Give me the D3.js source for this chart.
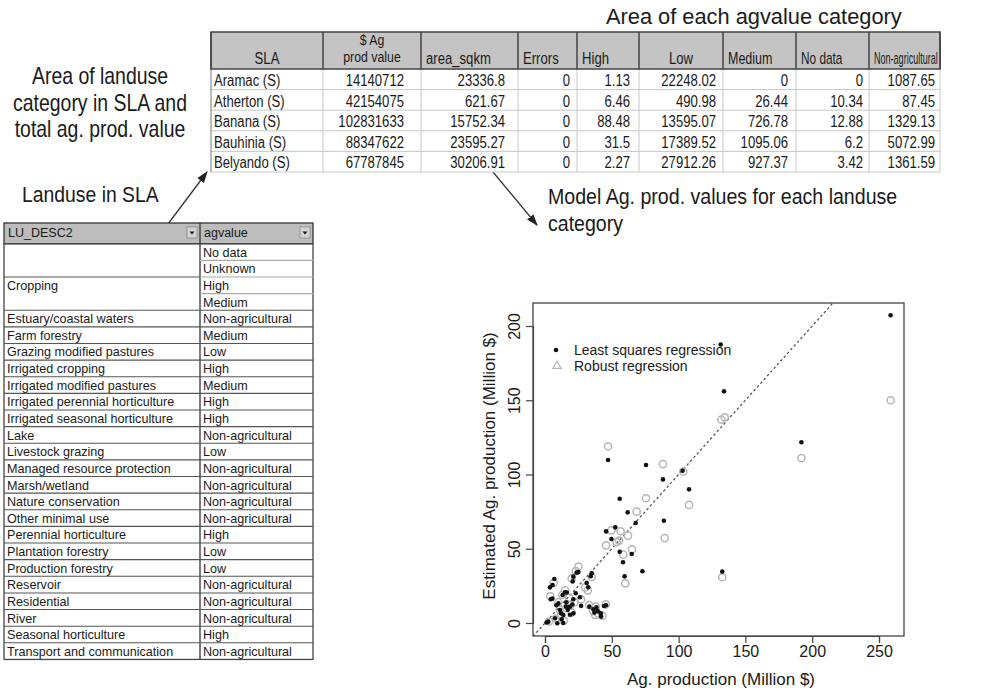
<!DOCTYPE html>
<html>
<head>
<meta charset="utf-8">
<script src="https://cdn.jsdelivr.net/npm/d3@7"></script>
<style>
  body { margin: 0; background: #fff; }
  svg { display: block; }
  text { font-family: "Liberation Sans", Arial, sans-serif; fill: #1a1a1a; }
</style>
</head>
<body>
<div id="chart"></div>
<script>
// top table: area of each agvalue category
var slaHeaders = ["SLA", "$ Ag|prod value", "area_sqkm", "Errors", "High", "Low", "Medium", "No data", "Non-agricultural"];
var slaNames = ["Aramac (S)", "Atherton (S)", "Banana (S)", "Bauhinia (S)", "Belyando (S)"];
var agProdValue = ["14140712", "42154075", "102831633", "88347622", "67787845"];
var areaSqkm = ["23336.8", "621.67", "15752.34", "23595.27", "30206.91"];
var errors = ["0", "0", "0", "0", "0"];
var areaHigh = ["1.13", "6.46", "88.48", "31.5", "2.27"];
var areaLow = ["22248.02", "490.98", "13595.07", "17389.52", "27912.26"];
var areaMedium = ["0", "26.44", "726.78", "1095.06", "927.37"];
var areaNoData = ["0", "10.34", "12.88", "6.2", "3.42"];
var areaNonAg = ["1087.65", "87.45", "1329.13", "5072.99", "1361.59"];

// left table: landuse -> agvalue
var luDesc = ["", "", "Cropping", "", "Estuary/coastal waters", "Farm forestry", "Grazing modified pastures",
  "Irrigated cropping", "Irrigated modified pastures", "Irrigated perennial horticulture",
  "Irrigated seasonal horticulture", "Lake", "Livestock grazing", "Managed resource protection",
  "Marsh/wetland", "Nature conservation", "Other minimal use", "Perennial horticulture",
  "Plantation forestry", "Production forestry", "Reservoir", "Residential", "River",
  "Seasonal horticulture", "Transport and communication"];
var agValue = ["No data", "Unknown", "High", "Medium", "Non-agricultural", "Medium", "Low", "High", "Medium",
  "High", "High", "Non-agricultural", "Low", "Non-agricultural", "Non-agricultural", "Non-agricultural",
  "Non-agricultural", "High", "Low", "Low", "Non-agricultural", "Non-agricultural", "Non-agricultural",
  "High", "Non-agricultural"];

// scatter: ag. production (x) vs estimated (y), million $
var lsPoints = [[258.7,207.2],[134,156],[131.5,187.5],[191.9,121.7],[47.2,109.8],[75.6,106.4],[88.3,96.7],
  [103,102.5],[107.8,90],[55.9,83.7],[61.9,74.5],[89,68.9],[67.9,67.3],[45.7,61.7],[52.6,64.4],[49.7,56.6],
  [55.9,48],[64.9,46.5],[58.4,40.9],[59.6,31.4],[72.9,34.8],[132.7,34.6],
  [7,29.6],[5.7,25.6],[3.7,24],[4.3,16],[5.5,16.4],[21.2,31.2],[20.7,28],[23.7,33.9],[25,34.3],[35,33.5],
  [34.2,31.5],[31.2,27],[32.4,24],[15,20.7],[13.2,18.9],[16.3,20.5],[21.2,16],[26.2,17.3],[10,13.2],
  [11.2,8.8],[15.7,11],[18.7,11],[13.7,5.4],[7.5,3.2],[2.5,0.9],[1.2,0.3],[9.2,-0.2],[12.5,2.5],[13.7,0],
  [21.2,6.5],[18.7,5.6],[17,9],[33.2,11],[36.2,9.2],[38.5,10.5],[39.5,8],[41.7,6.5],[37,7],[44.2,11.4],
  [45.7,12],[42,4.3],[8.5,12],[20.5,12.5],[12,6.5],[16,14],[27,11.5],[23,20]];
var robustPoints = [[258.7,150],[191.9,111],[132,137],[134.5,138.5],[47.2,119],[75.6,84],[88.3,107],
  [103.5,102],[107.8,79.5],[68.6,75],[89.6,57.2],[60.1,26.7],[132.7,30.8],[49.7,62.4],[45.7,52.3],
  [56.6,61.8],[53.6,54.5],[55.5,55.5],[62.1,58.8],[65.1,49.6],[58.6,46],[25,38],[23,35],[6.5,27],[4,18],
  [20,30],[30,24],[35,31],[15,22],[13,19],[22,14],[27,16],[10,14],[16,10],[19,12],[12,5],[8,3],[3,1],
  [14,1.5],[20,7],[33,12],[36,8],[38,11],[40,6],[43,5],[45.5,12.5],[32,22],[18,17],[37.5,5.5],[11,9]];
var xTicks = [0, 50, 100, 150, 200, 250];
var yTicks = [0, 50, 100, 150, 200];

var W = 998, H = 692;
var svg = d3.select("#chart").append("svg").attr("width", W).attr("height", H);

// narrow text helper (the figure uses a condensed face)
function ntext(g, x, y, str, size, sx, anchor) {
  return g.append("text")
    .attr("transform", "translate(" + x + "," + y + ") scale(" + sx + ",1)")
    .attr("text-anchor", anchor || "start")
    .style("font-size", size + "px")
    .text(str);
}

// ---------- annotations ----------
var ann = svg.append("g");
ntext(ann, 100, 84, "Area of landuse", 23, 0.845, "middle");
ntext(ann, 100, 111, "category in SLA and", 23, 0.845, "middle");
ntext(ann, 100, 137, "total ag. prod. value", 23, 0.845, "middle");
ntext(ann, 22, 202, "Landuse in SLA", 22, 0.88);
ntext(ann, 548, 204, "Model Ag. prod. values for each landuse", 22, 0.89);
ntext(ann, 548, 231, "category", 22, 0.89);
ann.append("text").attr("x", 606).attr("y", 24).style("font-size", "21.8px")
  .text("Area of each agvalue category");

svg.append("defs").append("marker")
  .attr("id", "arr").attr("viewBox", "0 0 10 10").attr("refX", 9).attr("refY", 5)
  .attr("markerWidth", 9).attr("markerHeight", 9).attr("orient", "auto")
  .append("path").attr("d", "M0,1.5 L10,5 L0,8.5 Z").attr("fill", "#222");
ann.append("line").attr("x1", 168).attr("y1", 224).attr("x2", 207).attr("y2", 172)
  .attr("stroke", "#333").attr("stroke-width", 1.3).attr("marker-end", "url(#arr)");
ann.append("line").attr("x1", 493).attr("y1", 172).attr("x2", 537).attr("y2", 225)
  .attr("stroke", "#333").attr("stroke-width", 1.3).attr("marker-end", "url(#arr)");

// ---------- top table ----------
var colEdges = [211, 323, 421, 518, 577, 639, 723, 796, 869, 940];
var hAlign = ["middle", "middle", "start", "start", "start", "middle", "start", "start", "start"];
var hScale = [0.82, 0.82, 0.82, 0.82, 0.82, 0.82, 0.78, 0.74, 0.565];
var padR = [0, 17, 13, 7, 9, 7, 8, 6, 5];
var cols = [slaNames, agProdValue, areaSqkm, errors, areaHigh, areaLow, areaMedium, areaNoData, areaNonAg];
var tTop = 32, tHead = 69, rowH = 20.6;
var tt = svg.append("g");
var rowY = d3.scaleLinear().domain([0, slaNames.length]).range([tHead, tHead + rowH * slaNames.length]);

tt.append("rect").attr("x", colEdges[0]).attr("y", tTop)
  .attr("width", colEdges[colEdges.length - 1] - colEdges[0]).attr("height", tHead - tTop)
  .attr("fill", "#c4c4c4");
// light grid
slaNames.forEach(function(d, i) {
  tt.append("line").attr("x1", colEdges[0]).attr("x2", colEdges[colEdges.length - 1])
    .attr("y1", rowY(i + 1)).attr("y2", rowY(i + 1)).attr("stroke", "#c8c8c8").attr("stroke-width", 1);
});
colEdges.forEach(function(x, i) {
  tt.append("line").attr("x1", x).attr("x2", x).attr("y1", tHead).attr("y2", rowY(slaNames.length))
    .attr("stroke", i == 0 ? "#777" : "#c8c8c8").attr("stroke-width", 1);
  tt.append("line").attr("x1", x).attr("x2", x).attr("y1", tTop).attr("y2", tHead)
    .attr("stroke", "#444").attr("stroke-width", 1.5);
});
tt.append("rect").attr("x", colEdges[0]).attr("y", tTop)
  .attr("width", colEdges[colEdges.length - 1] - colEdges[0]).attr("height", tHead - tTop)
  .attr("fill", "none").attr("stroke", "#444").attr("stroke-width", 1.5);

slaHeaders.forEach(function(h, i) {
  var a = hAlign[i];
  var x = a == "middle" ? (colEdges[i] + colEdges[i + 1]) / 2 : colEdges[i] + 5;
  var parts = h.split("|");
  if (parts.length == 2) {
    ntext(tt, x, 45, parts[0], 14.5, 0.85, a);
    ntext(tt, x, 62, parts[1], 14.5, 0.85, a);
  } else {
    ntext(tt, x, 64, h, 16, hScale[i], a);
  }
});
cols.forEach(function(col, c) {
  col.forEach(function(v, r) {
    var y = rowY(r) + 17;
    if (c == 0) ntext(tt, colEdges[0] + 3, y, v, 16, 0.82, "start");
    else ntext(tt, colEdges[c + 1] - padR[c], y, v, 16, 0.82, "end");
  });
});

// ---------- left table ----------
var lx = [4, 200, 313];
var lHeadTop = 223, lRowTop = 243.7, lRowH = 16.63;
var lt = svg.append("g");
var lRow = d3.scaleLinear().domain([0, agValue.length]).range([lRowTop, lRowTop + lRowH * agValue.length]);

lt.append("rect").attr("x", lx[0]).attr("y", lHeadTop).attr("width", lx[2] - lx[0])
  .attr("height", lRowTop - lHeadTop).attr("fill", "#bdbdbd").attr("stroke", "#333").attr("stroke-width", 1.3);
lt.append("line").attr("x1", lx[1]).attr("x2", lx[1]).attr("y1", lHeadTop).attr("y2", lRow(agValue.length))
  .attr("stroke", "#333").attr("stroke-width", 1.3);
lt.append("rect").attr("x", lx[0]).attr("y", lRowTop).attr("width", lx[2] - lx[0])
  .attr("height", lRow(agValue.length) - lRowTop).attr("fill", "none").attr("stroke", "#444").attr("stroke-width", 1.3);
// header text and dropdown buttons
[["LU_DESC2", 0], ["agvalue", 1]].forEach(function(h) {
  lt.append("text").attr("x", lx[h[1]] + 4).attr("y", 237).style("font-size", "12.5px").text(h[0]);
  var bx = lx[h[1] + 1] - 13, by = 227;
  lt.append("rect").attr("x", bx).attr("y", by).attr("width", 10).attr("height", 11)
    .attr("fill", "#d4d4d4").attr("stroke", "#777").attr("stroke-width", 0.6);
  lt.append("path").attr("d", "M" + (bx + 2.5) + "," + (by + 4.5) + " h5 l-2.5,3 z").attr("fill", "#111");
});
agValue.forEach(function(v, i) {
  var y0 = lRow(i + 1);
  if (i < agValue.length - 1) {
    // left column merged for the first pair and for "Cropping"
    if (i != 0 && i != 2) {
      lt.append("line").attr("x1", lx[0]).attr("x2", lx[1]).attr("y1", y0).attr("y2", y0)
        .attr("stroke", "#555").attr("stroke-width", 1.1);
    }
    lt.append("line").attr("x1", lx[1]).attr("x2", lx[2]).attr("y1", y0).attr("y2", y0)
      .attr("stroke", i < 3 ? "#aaa" : "#555").attr("stroke-width", 1.1);
  }
  lt.append("text").attr("x", lx[1] + 3).attr("y", lRow(i) + 13).style("font-size", "12.6px").text(v);
  if (luDesc[i]) {
    lt.append("text").attr("x", lx[0] + 3).attr("y", lRow(i) + 13).style("font-size", "12.6px").text(luDesc[i]);
  }
});

// ---------- scatter plot ----------
var frame = {x: 533, y: 303, w: 371, h: 333};
var x = d3.scaleLinear().domain([0, 250]).range([545, 879]);
var y = d3.scaleLinear().domain([0, 200]).range([623, 326]);
var sp = svg.append("g");

sp.append("clipPath").attr("id", "clip").append("rect")
  .attr("x", frame.x).attr("y", frame.y).attr("width", frame.w).attr("height", frame.h);

// 1:1 line
var lo = x.invert(frame.x), hi = y.invert(frame.y);
sp.append("line").attr("clip-path", "url(#clip)")
  .attr("x1", x(lo)).attr("y1", y(lo)).attr("x2", x(hi)).attr("y2", y(hi))
  .attr("stroke", "#555").attr("stroke-width", 1.3).attr("stroke-dasharray", "2.5,2.5");

sp.selectAll("circle.rob").data(robustPoints).enter().append("circle").attr("class", "rob")
  .attr("cx", d => x(d[0])).attr("cy", d => y(d[1])).attr("r", 3.6)
  .attr("fill", "none").attr("stroke", "#b5b5b5").attr("stroke-width", 1.5);
sp.selectAll("circle.ls").data(lsPoints).enter().append("circle").attr("class", "ls")
  .attr("cx", d => x(d[0])).attr("cy", d => y(d[1])).attr("r", 2.3)
  .attr("fill", "#111");

sp.append("rect").attr("x", frame.x).attr("y", frame.y).attr("width", frame.w).attr("height", frame.h)
  .attr("fill", "none").attr("stroke", "#444").attr("stroke-width", 1.3);

// axes
var xAxis = d3.axisBottom(x).tickValues(xTicks).tickSize(7).tickPadding(3);
var gx = sp.append("g").attr("transform", "translate(0," + (frame.y + frame.h) + ")").call(xAxis);
gx.select(".domain").attr("stroke", "#444").attr("stroke-width", 1.2);
gx.selectAll(".tick line").attr("stroke", "#444").attr("stroke-width", 1.2);
gx.selectAll(".tick text").style("font-size", "16px").attr("fill", "#1a1a1a")
  .style("font-family", "'Liberation Sans', Arial, sans-serif");

var yAxis = d3.axisLeft(y).tickValues(yTicks).tickSize(7).tickFormat(d => d);
var gy = sp.append("g").attr("transform", "translate(" + frame.x + ",0)").call(yAxis);
gy.select(".domain").attr("stroke", "#444").attr("stroke-width", 1.2);
gy.selectAll(".tick line").attr("stroke", "#444").attr("stroke-width", 1.2);
gy.selectAll(".tick text")
  .attr("x", null).attr("dy", null)
  .attr("transform", "translate(-13,0) rotate(-90)")
  .attr("text-anchor", "middle").attr("fill", "#1a1a1a")
  .style("font-size", "16px").style("font-family", "'Liberation Sans', Arial, sans-serif");

sp.append("text").attr("x", 721).attr("y", 685).attr("text-anchor", "middle")
  .style("font-size", "17px").text("Ag. production (Million $)");
sp.append("text").attr("transform", "translate(495,466) rotate(-90)").attr("text-anchor", "middle")
  .style("font-size", "17px").text("Estimated Ag. production (Million $)");

// legend
var lg = sp.append("g");
lg.append("circle").attr("cx", 556).attr("cy", 350).attr("r", 2.3).attr("fill", "#111");
lg.append("path").attr("d", d3.symbol(d3.symbolTriangle, 30)()).attr("transform", "translate(557,366)")
  .attr("fill", "none").attr("stroke", "#b5b5b5").attr("stroke-width", 1.2);
lg.append("text").attr("x", 574).attr("y", 355).style("font-size", "14px").text("Least squares regression");
lg.append("text").attr("x", 574).attr("y", 371).style("font-size", "14px").text("Robust regression");
</script>
</body>
</html>
